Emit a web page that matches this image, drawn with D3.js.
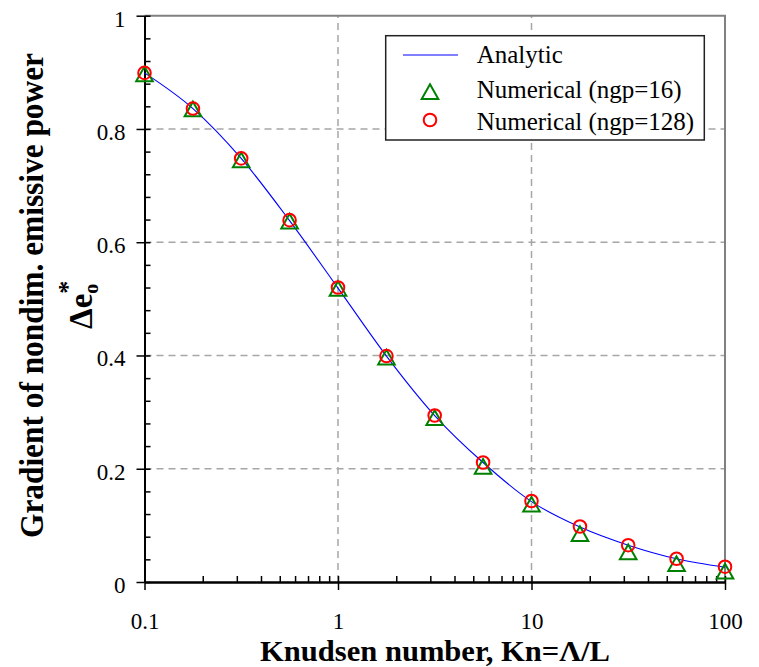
<!DOCTYPE html>
<html>
<head>
<meta charset="utf-8">
<script src="https://cdn.jsdelivr.net/npm/d3@7"></script>
<style>
  html, body { margin: 0; padding: 0; background: #fff; }
  svg { display: block; }
  text { font-family: "Liberation Serif", "Times New Roman", serif; fill: #000; }
</style>
</head>
<body>
<svg id="chart" width="759" height="667"></svg>
<script>
// Knudsen numbers (four per decade)
const knudsen = [0.1, 0.178, 0.316, 0.562, 1, 1.78, 3.16, 5.62, 10, 17.8, 31.6, 56.2, 100];
// Analytic gradient of nondimensional emissive power
const analytic = [0.899, 0.836, 0.748, 0.638, 0.519, 0.399, 0.294, 0.211, 0.142, 0.097, 0.065, 0.041, 0.026];
// Numerical solution, ngp = 16
const numerical16 = [0.897, 0.835, 0.745, 0.637, 0.518, 0.397, 0.290, 0.204, 0.137, 0.085, 0.053, 0.032, 0.019];
// Numerical solution, ngp = 128
const numerical128 = [0.899, 0.836, 0.748, 0.639, 0.520, 0.399, 0.294, 0.211, 0.143, 0.098, 0.065, 0.041, 0.027];

const xMajor = [0.1, 1, 10, 100];
const xMajorLabels = ["0.1", "1", "10", "100"];
const yMajor = [0, 0.2, 0.4, 0.6, 0.8, 1];
const yMajorLabels = ["0", "0.2", "0.4", "0.6", "0.8", "1"];
const xGrid = [1, 10];
const yGrid = [0.2, 0.4, 0.6, 0.8];

const legendLabels = ["Analytic", "Numerical (ngp=16)", "Numerical (ngp=128)"];
const xTitle = "Knudsen number, Kn=\u039B/L";
const yTitle = "Gradient of nondim. emissive power";

const svg = d3.select("#chart");
const plotL = 144.5, plotR = 725, plotT = 15.7, plotB = 582;

const x = d3.scaleLog().domain([0.1, 100]).range([plotL, plotR]);
const y = d3.scaleLinear().domain([0, 1]).range([plotB, plotT]);

// minor tick positions
const xMinor = [];
[0.1, 1, 10].forEach(d => { for (let k = 2; k <= 9; k++) xMinor.push(+(d * k).toPrecision(3)); });
const yMinor = d3.range(0, 26).map(i => +(i * 0.04).toFixed(2)).filter(v => v <= 1 && yMajor.indexOf(v) < 0);

// dashed grid
const grid = svg.append("g").attr("stroke", "#a6a6a6").attr("stroke-width", 1.5).attr("stroke-dasharray", "7,5");
grid.selectAll("line.h").data(yGrid).join("line").attr("class", "h")
  .attr("x1", plotL).attr("x2", plotR).attr("y1", d => y(d)).attr("y2", d => y(d));
grid.selectAll("line.v").data(xGrid).join("line").attr("class", "v")
  .attr("y1", plotB).attr("y2", plotT).attr("x1", d => x(d)).attr("x2", d => x(d));

// grey frame on top and right
svg.append("path")
  .attr("d", `M${plotL},${plotT}H${plotR}V${plotB}`)
  .attr("fill", "none").attr("stroke", "#808080").attr("stroke-width", 2);

// x axis: minor ticks inside, major ticks crossing, labels below
const xMinorAxis = d3.axisBottom(x).tickValues(xMinor.concat(xMajor)).tickSize(-6).tickSizeOuter(0).tickFormat("");
const gxm = svg.append("g").attr("transform", `translate(0,${plotB})`).call(xMinorAxis);
const xAxis = d3.axisBottom(x).tickValues(xMajor).tickSize(8).tickSizeOuter(0)
  .tickFormat((d, i) => xMajorLabels[i]);
const gx = svg.append("g").attr("transform", `translate(0,${plotB})`).call(xAxis);
gx.selectAll("text").attr("y", 46.5).attr("dy", null).style("font-size", "23px")
  .style("font-family", "'Liberation Serif', serif");

// y axis
const yMinorAxis = d3.axisLeft(y).tickValues(yMinor.concat(yMajor)).tickSize(-6).tickSizeOuter(0).tickFormat("");
const gym = svg.append("g").attr("transform", `translate(${plotL},0)`).call(yMinorAxis);
const yAxis = d3.axisLeft(y).tickValues(yMajor).tickSize(8).tickPadding(11).tickSizeOuter(0)
  .tickFormat((d, i) => yMajorLabels[i]);
const gy = svg.append("g").attr("transform", `translate(${plotL},0)`).call(yAxis);
gy.selectAll("text").attr("dy", "0.45em").style("font-size", "23px")
  .style("font-family", "'Liberation Serif', serif");

[gxm, gx, gym, gy].forEach(g => {
  g.selectAll("line").attr("stroke", "#000").attr("stroke-width", 1.5);
  g.select(".domain").attr("stroke", "#000").attr("stroke-width", 2);
});

// analytic curve
const line = d3.line().x((d, i) => x(knudsen[i])).y(d => y(d)).curve(d3.curveMonotoneX);
svg.append("path").datum(analytic).attr("d", line)
  .attr("fill", "none").attr("stroke", "#0000ff").attr("stroke-width", 1.1);

// triangle marker path centred on its bounding box
const tri = (cx, cy) => `M${cx},${cy - 7.5}L${cx + 8.3},${cy + 7.2}L${cx - 8.3},${cy + 7.2}Z`;

svg.append("g").selectAll("path").data(numerical16).join("path")
  .attr("d", (d, i) => tri(x(knudsen[i]), y(d)))
  .attr("fill", "none").attr("stroke", "#008000").attr("stroke-width", 2);

svg.append("g").selectAll("circle").data(numerical128).join("circle")
  .attr("cx", (d, i) => x(knudsen[i])).attr("cy", d => y(d)).attr("r", 6.3)
  .attr("fill", "none").attr("stroke", "#ff0000").attr("stroke-width", 2);

// legend
const lg = svg.append("g");
lg.append("rect").attr("x", 385.7).attr("y", 35.7).attr("width", 318.6).attr("height", 104.3)
  .attr("fill", "#fff").attr("stroke", "#222").attr("stroke-width", 1.5);
lg.append("line").attr("x1", 403).attr("x2", 458).attr("y1", 55).attr("y2", 55)
  .attr("stroke", "#0000ff").attr("stroke-width", 1.1);
lg.append("path").attr("d", tri(430, 91.7)).attr("fill", "none").attr("stroke", "#008000").attr("stroke-width", 2);
lg.append("circle").attr("cx", 430).attr("cy", 120).attr("r", 6.3)
  .attr("fill", "none").attr("stroke", "#ff0000").attr("stroke-width", 2);
lg.selectAll("text").data(legendLabels).join("text")
  .attr("x", 476.7).attr("y", (d, i) => [63.3, 98.3, 130][i])
  .style("font-size", "25px").text(d => d);

// axis titles
svg.append("text").attr("x", 435).attr("y", 660.5).attr("text-anchor", "middle")
  .attr("textLength", 350).attr("lengthAdjust", "spacingAndGlyphs")
  .style("font-size", "30px").style("font-weight", "bold").text(xTitle);

svg.append("text").attr("transform", "translate(43,295.5) rotate(-90)").attr("text-anchor", "middle")
  .attr("textLength", 485).attr("lengthAdjust", "spacingAndGlyphs")
  .style("font-size", "33px").style("font-weight", "bold").text(yTitle);

// second title line: Δe with subscript o and superscript *
const sub = svg.append("text").attr("transform", "translate(92,329) rotate(-90)").attr("text-anchor", "start")
  .style("font-size", "33px").style("font-weight", "bold");
sub.append("tspan").text("\u0394e");
sub.append("tspan").attr("dy", 6).style("font-size", "20px").text("o");
sub.append("tspan").attr("dx", -10).attr("dy", -22).style("font-size", "26px").text("*");
</script>
</body>
</html>
